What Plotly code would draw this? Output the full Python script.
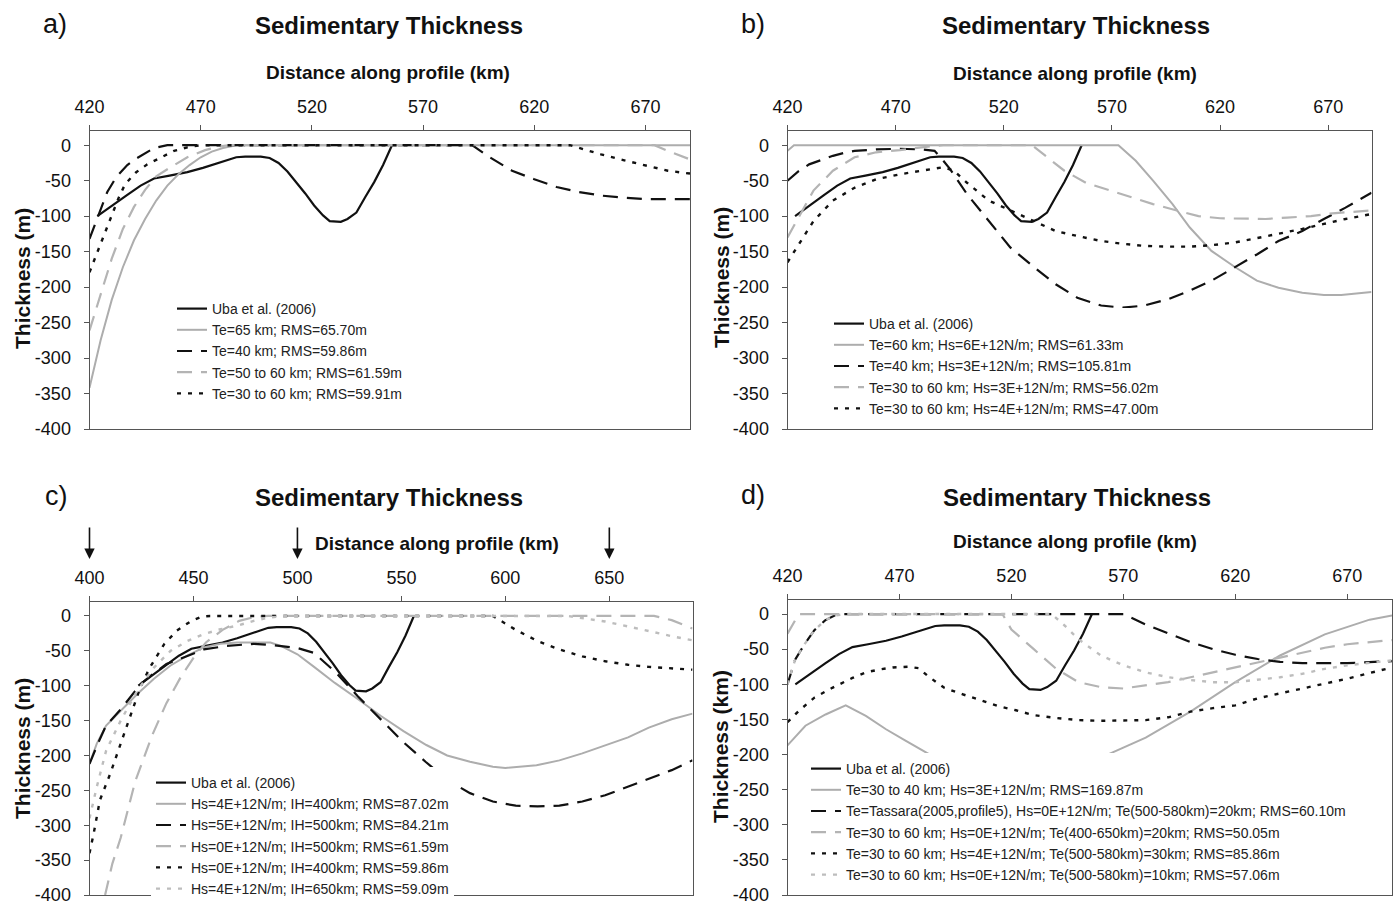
import plotly.graph_objects as go

W, H = 1396, 906
FONT = "Liberation Sans, Arial, Helvetica, sans-serif"

# ---------------- data ----------------
# Observed profile (same in all panels)
UBA_X = [423.5, 430, 437, 443, 449, 456, 464, 471, 479, 486, 490, 497, 501, 505, 509, 513, 517, 521, 525, 528, 533, 536, 540, 544, 548, 552, 556]
UBA_Y = [-100, -85, -70, -57, -47, -43, -38, -32, -24, -17, -16, -16, -18, -25, -37, -52, -68, -85, -99, -107, -108, -104, -95, -73, -52, -28, 0]

# Panel a
A_TE65_X = [420, 425, 430, 435, 440, 445, 450, 455, 460, 465, 470, 475, 480, 486, 690]
A_TE65_Y = [-342, -275, -218, -172, -134, -104, -78, -57, -41, -28, -17, -9, -4, 0, 0]
A_TE40_X = [420, 425, 428, 432, 437, 441, 445, 449, 455, 592, 600, 610, 620, 630, 640, 650, 660, 670, 690]
A_TE40_Y = [-132, -90, -66, -45, -28, -19, -11, -4, 0, 0, -17, -36, -48, -59, -66, -71, -74, -76, -76]
A_TE5060_X = [420, 425, 430, 435, 440, 445, 450, 457, 464, 472, 478, 483, 674, 680, 690]
A_TE5060_Y = [-261, -209, -160, -118, -87, -63, -44, -30, -17, -7, -2, 0, 0, -8, -20]
A_TE3060_X = [420, 425, 430, 433, 436, 441, 446, 452, 458, 464, 470, 636, 650, 660, 670, 680, 690]
A_TE3060_Y = [-179, -140, -100, -75, -55, -38, -27, -17, -8, -3, 0, 0, -13, -21, -29, -36, -40]

# Panel b
B_TE60_X = [420, 423, 573, 581, 589, 598, 606, 616, 627, 637, 647, 658, 668, 676, 690]
B_TE60_Y = [-8, 0, 0, -22, -50, -83, -116, -149, -172, -191, -201, -208, -211, -211, -207]
B_TE40_X = [420, 425, 430, 436, 441, 446, 451, 461, 472, 482, 488, 491, 495, 503, 513, 523, 534, 544, 554, 565, 575, 585, 596, 606, 616, 627, 637, 647, 658, 668, 678, 690]
B_TE40_Y = [-50, -37, -27, -20, -15, -11, -8, -6, -5, -6, -8, -18, -33, -69, -107, -144, -172, -196, -215, -226, -229, -226, -217, -205, -191, -172, -154, -135, -121, -104, -88, -67]
B_TE3060A_X = [420, 426, 432, 441, 451, 461, 472, 482, 492, 533, 540, 548, 558, 569, 579, 589, 600, 610, 620, 631, 641, 651, 662, 672, 690]
B_TE3060A_Y = [-130, -97, -64, -36, -17, -10, -7, -3, 0, 0, -17, -36, -53, -64, -74, -83, -92, -100, -103, -104, -104, -102, -100, -96, -92]
B_TE3060B_X = [420, 426, 432, 441, 451, 461, 472, 482, 492, 497, 503, 513, 523, 534, 544, 554, 565, 575, 585, 596, 606, 616, 627, 637, 647, 658, 668, 678, 690]
B_TE3060B_Y = [-165, -135, -107, -78, -60, -48, -41, -36, -31, -36, -53, -78, -92, -107, -121, -128, -135, -139, -142, -143, -143, -141, -137, -131, -125, -118, -111, -104, -97]

# Panel c
C_HS4_400_X = [400, 403.5, 408, 415, 423, 431, 439, 447, 455, 463, 471, 479, 487, 492, 500, 508, 518, 529, 540, 551, 562, 572, 583, 594, 600, 615, 626, 637, 648, 659, 669, 680, 690]
C_HS4_400_Y = [-212, -183, -157, -136, -112, -90, -71, -57, -45, -40, -38, -38, -38, -43, -55, -73, -96, -119, -143, -165, -185, -200, -209, -216, -218, -214, -207, -197, -186, -174, -160, -148, -140]
C_HS5_500_X = [400, 404, 408, 415, 424.5, 431, 437, 447, 455, 466, 479, 489, 500, 508, 518.5, 529, 540, 551, 561.6, 572, 583, 594, 605, 615.5, 626, 637, 648, 659, 669, 680, 690]
C_HS5_500_Y = [-212, -183, -157, -134, -98, -82, -69, -57, -48, -43, -40, -42, -46, -53, -81, -115, -148, -181, -209, -235, -254, -266, -272, -273, -272, -266, -257, -245, -233, -221, -207]
C_HS0_500_X = [407.5, 411, 415, 422, 430, 437, 444, 450, 456, 464, 472, 480, 486, 671.5, 680, 690]
C_HS0_500_Y = [-400, -355, -318, -237, -172, -125, -87, -60, -38, -20, -7, -1, 0, 0, -6, -18]
C_HS0_400_X = [400, 402, 405, 410, 415, 420, 424.5, 429, 436, 442, 449, 454, 458, 594, 605, 615.5, 626, 637, 648, 659, 669, 690]
C_HS0_400_Y = [-340, -312, -264, -226, -183, -140, -102, -74, -40, -21, -7, -1, 0, 0, -20, -36, -48, -58, -65, -70, -73, -77]
C_HS4_650_X = [400, 403.5, 408, 415, 423, 431, 439, 447, 455, 463, 471, 479, 487, 495, 630, 648, 659, 669, 680, 690]
C_HS4_650_Y = [-290, -245, -193, -150, -107, -74, -50, -36, -26, -19, -14, -7, -2, 0, 0, -8, -15, -22, -29, -35]
C_ARROWS = [400, 500, 650]

# Panel d
D_TE3040_X = [420, 428, 437, 446, 455, 464, 472.5, 483, 490, 500, 510, 520, 530, 540, 550, 557, 563, 580, 600, 620, 640, 660, 680, 690]
D_TE3040_Y = [-187, -159, -143, -130, -145, -164, -180, -199, -215, -228, -238, -245, -245, -238, -225, -212, -200, -176, -139, -97, -59, -29, -8, -2]
D_TASS_X = [420, 423.4, 427.8, 432, 436.8, 441, 446, 570, 580, 590, 600, 610, 620, 630, 640, 650, 670, 690]
D_TASS_Y = [-100, -65, -42, -23, -9, -2, 0, 0, -15, -28, -40, -50, -58, -64, -68, -70, -70, -67]
D_TE20_X = [420, 425, 516, 520, 530, 540, 550, 560, 570, 580, 590, 600, 610, 620, 630, 640, 650, 660, 670, 690]
D_TE20_Y = [-28, 0, 0, -22, -50, -78, -97, -104, -106, -102, -97, -90, -83, -76, -69, -62, -55, -48, -43, -37]
D_TE30_X = [420, 425, 432, 440, 449, 455, 461, 467, 474, 478.5, 483, 490, 498, 505, 514, 522, 530, 540, 550, 560, 570, 580, 590, 600, 610, 620, 630, 640, 650, 660, 670, 690]
D_TE30_Y = [-154, -138, -119, -105, -91, -83, -79, -76, -75, -77, -89, -105, -114, -121, -131, -137, -144, -148, -151, -152, -152, -151, -147, -139, -134, -130, -120, -113, -106, -99, -92, -76]
D_TE10_X = [420, 423.4, 427.8, 432, 436.8, 441, 446, 538, 544, 550, 560, 570, 580, 590, 600, 610, 620, 630, 640, 650, 660, 670, 690]
D_TE10_Y = [-100, -65, -42, -23, -9, -2, 0, 0, -17, -36, -59, -73, -83, -90, -94, -97, -97, -94, -90, -85, -78, -73, -66]

X_TICKS_ABD = [420, 470, 520, 570, 620, 670]
X_TICKS_C = [400, 450, 500, 550, 600, 650]
Y_TICKS = [0, -50, -100, -150, -200, -250, -300, -350, -400]
Y_TICKTEXT = ["0", "-50", "-100", "-150", "-200", "-250", "-300", "-350", "-400"]

# ---------------- styles ----------------
BLACK = "#111111"
GRAY_SOLID = "#adadad"
GRAY_DASH = "#b4b4b4"
GRAY_DOT = "#bdbdbd"
DASH = "15px,9px"
DOT = "4px,7px"
STY = {
    "ks": dict(color=BLACK, width=2.2, dash="solid"),
    "gs": dict(color=GRAY_SOLID, width=2, dash="solid"),
    "kd": dict(color=BLACK, width=2.2, dash=DASH),
    "gd": dict(color=GRAY_DASH, width=2.2, dash=DASH),
    "kp": dict(color=BLACK, width=2.4, dash=DOT),
    "gp": dict(color=GRAY_DOT, width=2.4, dash=DOT),
}

fig = go.Figure()
fig.update_layout(template="none")


def add(x, y, name, sty, ax, leg):
    xa = "x" if ax == 1 else "x%d" % ax
    ya = "y" if ax == 1 else "y%d" % ax
    fig.add_trace(go.Scatter(x=x, y=y, name=name, mode="lines", line=STY[sty],
                             xaxis=xa, yaxis=ya, legend=leg, hoverinfo="skip"))


# panel a
add(UBA_X, UBA_Y, "Uba et al. (2006)", "ks", 1, "legend")
add(A_TE65_X, A_TE65_Y, "Te=65 km; RMS=65.70m", "gs", 1, "legend")
add(A_TE40_X, A_TE40_Y, "Te=40 km; RMS=59.86m", "kd", 1, "legend")
add(A_TE5060_X, A_TE5060_Y, "Te=50 to 60 km; RMS=61.59m", "gd", 1, "legend")
add(A_TE3060_X, A_TE3060_Y, "Te=30 to 60 km; RMS=59.91m", "kp", 1, "legend")
# panel b
add(UBA_X, UBA_Y, "Uba et al. (2006)", "ks", 2, "legend2")
add(B_TE60_X, B_TE60_Y, "Te=60 km; Hs=6E+12N/m; RMS=61.33m", "gs", 2, "legend2")
add(B_TE40_X, B_TE40_Y, "Te=40 km; Hs=3E+12N/m; RMS=105.81m", "kd", 2, "legend2")
add(B_TE3060A_X, B_TE3060A_Y, "Te=30 to 60 km; Hs=3E+12N/m; RMS=56.02m", "gd", 2, "legend2")
add(B_TE3060B_X, B_TE3060B_Y, "Te=30 to 60 km; Hs=4E+12N/m; RMS=47.00m", "kp", 2, "legend2")
# panel c
add(UBA_X, UBA_Y, "Uba et al. (2006)", "ks", 3, "legend3")
add(C_HS4_400_X, C_HS4_400_Y, "Hs=4E+12N/m; IH=400km; RMS=87.02m", "gs", 3, "legend3")
add(C_HS5_500_X, C_HS5_500_Y, "Hs=5E+12N/m; IH=500km; RMS=84.21m", "kd", 3, "legend3")
add(C_HS0_500_X, C_HS0_500_Y, "Hs=0E+12N/m; IH=500km; RMS=61.59m", "gd", 3, "legend3")
add(C_HS0_400_X, C_HS0_400_Y, "Hs=0E+12N/m; IH=400km; RMS=59.86m", "kp", 3, "legend3")
add(C_HS4_650_X, C_HS4_650_Y, "Hs=4E+12N/m; IH=650km; RMS=59.09m", "gp", 3, "legend3")
# panel d
add(UBA_X, UBA_Y, "Uba et al. (2006)", "ks", 4, "legend4")
add(D_TE3040_X, D_TE3040_Y, "Te=30 to 40 km; Hs=3E+12N/m; RMS=169.87m", "gs", 4, "legend4")
add(D_TASS_X, D_TASS_Y, "Te=Tassara(2005,profile5), Hs=0E+12N/m; Te(500-580km)=20km; RMS=60.10m", "kd", 4, "legend4")
add(D_TE20_X, D_TE20_Y, "Te=30 to 60 km; Hs=0E+12N/m; Te(400-650km)=20km; RMS=50.05m", "gd", 4, "legend4")
add(D_TE30_X, D_TE30_Y, "Te=30 to 60 km; Hs=4E+12N/m; Te(500-580km)=30km; RMS=85.86m", "kp", 4, "legend4")
add(D_TE10_X, D_TE10_Y, "Te=30 to 60 km; Hs=0E+12N/m; Te(500-580km)=10km; RMS=57.06m", "gp", 4, "legend4")


def px(v):
    return v / W


def py(v):
    return 1 - v / H


# plot boxes in pixels: (left, right, top, bottom)
BOX = {
    1: (89.5, 690, 131, 429),
    2: (787.5, 1371.5, 131, 429),
    3: (89.5, 692.5, 602, 895),
    4: (787.5, 1392, 600, 895),
}
XR = {1: [420, 690], 2: [420, 690], 3: [400, 690], 4: [420, 690]}

AXC = "#555555"
for i in range(1, 5):
    l, r, t, b = BOX[i]
    sfx = "" if i == 1 else str(i)
    tv = X_TICKS_C if i == 3 else X_TICKS_ABD
    fig.layout["xaxis" + sfx] = dict(
        domain=[px(l), px(r)], range=XR[i], side="top", anchor="y" + sfx,
        tickvals=tv, ticktext=[str(v) for v in tv], automargin=False,
        ticks="outside", ticklen=5, tickcolor=AXC, tickwidth=1,
        showline=True, linecolor=AXC, linewidth=1, mirror=True,
        showgrid=False, zeroline=False, ticklabelstandoff=5,
        ticklabeloverflow="allow",
        tickfont=dict(family=FONT, size=18, color="#111"), fixedrange=True)
    fig.layout["yaxis" + sfx] = dict(
        domain=[py(b), py(t)], range=[-400, 20], anchor="x" + sfx,
        tickvals=Y_TICKS, ticktext=Y_TICKTEXT, automargin=False,
        ticks="outside", ticklen=5, tickcolor=AXC, tickwidth=1,
        showline=True, linecolor=AXC, linewidth=1, mirror=True,
        showgrid=False, zeroline=False, ticklabelstandoff=9,
        ticklabeloverflow="allow",
        tickfont=dict(family=FONT, size=18, color="#111"), fixedrange=True)

LEGFONT = dict(family=FONT, size=14, color="#222")


def legend_at(x0, top):
    return dict(x=px(x0), y=py(top), xanchor="left", yanchor="top",
                bgcolor="white", borderwidth=0, font=LEGFONT,
                itemwidth=30, tracegroupgap=0)


fig.update_layout(
    legend=legend_at(172, 293),
    legend2=legend_at(829, 308),
    legend3=legend_at(151, 767),
    legend4=legend_at(806, 753),
)

ann = []


def text(x, y, s, size, bold=False, angle=0):
    ann.append(dict(x=px(x), y=py(y), xref="paper", yref="paper", text=("<b>%s</b>" % s) if bold else s,
                    showarrow=False, xanchor="center", yanchor="middle", textangle=angle,
                    font=dict(family=FONT, size=size, color="#111")))


for lab, (lx, ly) in zip(["a)", "b)", "c)", "d)"], [(55, 24), (753, 24), (56, 496), (753, 495)]):
    text(lx, ly, lab, 27)
for (tx, ty) in [(389, 25), (1076, 25), (389, 497), (1077, 497)]:
    text(tx, ty, "Sedimentary Thickness", 24, bold=True)
for (tx, ty) in [(388, 73), (1075, 74), (437, 543), (1075, 541)]:
    text(tx, ty, "Distance along profile (km)", 19, bold=True)
for (tx, ty, s) in [(22, 279, "Thickness (m)"), (721, 278, "Thickness (m)"),
                    (22, 749, "Thickness (m)"), (720, 747, "Thickness (km)")]:
    text(tx, ty, s, 21, bold=True, angle=-90)

for xv in C_ARROWS:
    ann.append(dict(x=xv, xref="x3", y=py(559), yref="paper", ax=0, ay=-33, text="",
                    showarrow=True, arrowhead=2, arrowsize=1.3, arrowwidth=1.6, arrowcolor="#111"))

fig.update_layout(
    annotations=ann,
    width=W, height=H, autosize=False,
    margin=dict(l=0, r=0, t=0, b=0, autoexpand=False),
    paper_bgcolor="white", plot_bgcolor="white",
    font=dict(family=FONT, color="#111"),
    showlegend=True,
)

fig.write_html("out.html")
